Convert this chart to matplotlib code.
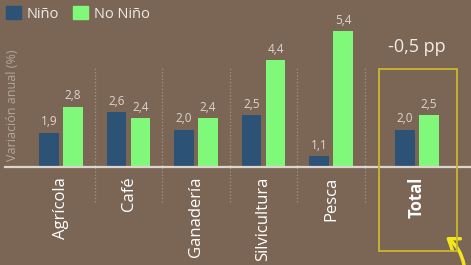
import matplotlib
matplotlib.use("Agg")
import matplotlib.pyplot as plt
from matplotlib.patches import Rectangle, Patch

categories = ["Agrícola", "Café", "Ganadería", "Silvicultura", "Pesca", "Total"]
nino = [1.9, 2.6, 2.0, 2.5, 1.1, 2.0]
no_nino = [2.8, 2.4, 2.4, 4.4, 5.4, 2.5]
xpos = [0, 1, 2, 3, 4, 5.27]

bg = "#7b6656"
navy = "#2c5275"
green = "#80f97a"
base = 0.72

plt.rcParams["font.family"] = ["Open Sans", "DejaVu Sans"]

fig = plt.figure(figsize=(4.71, 2.65), dpi=100, facecolor=bg)
ax = fig.add_axes([5/471, 98/265, 466/471, 167/265], facecolor=bg)
ax.set_xlim(-0.83, 6.074)
ax.set_ylim(base, base + 167/29.07)

w = 0.29
off = 0.178
for x, a, b in zip(xpos, nino, no_nino):
    ax.bar(x - off, a - base, width=w, bottom=base, color=navy)
    ax.bar(x + off, b - base, width=w, bottom=base, color=green)
    ax.text(x - off, a + 0.15, f"{a:.1f}".replace(".", ","), ha="center", va="bottom",
            fontsize=8.5, color="#ddd5cc")
    ax.text(x + off, b + 0.15, f"{b:.1f}".replace(".", ","), ha="center", va="bottom",
            fontsize=8.5, color="#ddd5cc")

# dotted separators
ax.vlines([0.5, 1.5, 2.5, 3.5, 4.5], -0.48, 4.13, colors="#a5927f", linestyles=":",
          linewidth=0.9, clip_on=False)

for s in ["top", "right", "left"]:
    ax.spines[s].set_visible(False)
ax.spines["bottom"].set_color("#ddd6ce")
ax.spines["bottom"].set_linewidth(1.6)
ax.set_yticks([])
ax.set_xticks(xpos)
ax.set_xticklabels(categories, rotation=90, fontsize=12, color="white", fontweight="medium")
ax.get_xticklabels()[-1].set_fontweight("bold")
ax.tick_params(axis="x", length=0, pad=7)

fig.text(13/471, 1 - 105/265, "Variación anual (%)", rotation=90, ha="center", va="center",
         fontsize=9, color="#b3a596")

# highlight box + arrow
fig.patches.append(Rectangle((379/471, 14/265), 78/471, 182/265, transform=fig.transFigure,
                             fill=False, edgecolor="#c9b92c", linewidth=1.3))
fig.text(417/471, 1 - 47/265, "-0,5 pp", ha="center", va="center", fontsize=13, color="#f2ece6")
ax.annotate("", xy=(446, 28), xycoords="figure pixels", xytext=(464, 0), textcoords="figure pixels",
            arrowprops=dict(arrowstyle="->,head_length=0.7,head_width=0.5", color="#f3e51c", lw=2.5,
                            shrinkA=0, shrinkB=0, connectionstyle="arc3,rad=0.2"),
            annotation_clip=False)

handles = [Patch(color=navy, label="Niño"), Patch(color=green, label="No Niño")]
leg = fig.legend(handles=handles, loc="upper left", bbox_to_anchor=(6/471, 1 - 6/265), ncol=2,
                 frameon=False, fontsize=10.5, handlelength=1.0, handleheight=1.0,
                 handletextpad=0.4, columnspacing=1.0, borderaxespad=0, borderpad=0)
for t in leg.get_texts():
    t.set_color("#eeeae5")

fig.savefig("out.png", dpi=100, facecolor=bg)
